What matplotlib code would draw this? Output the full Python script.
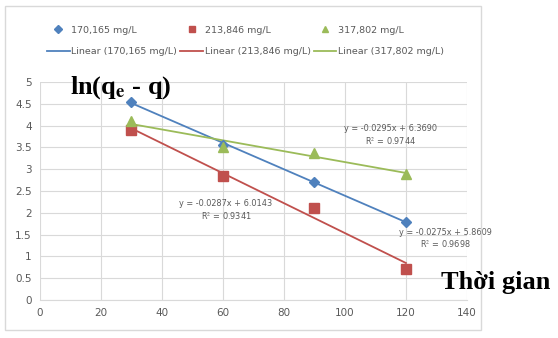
import numpy as np
import matplotlib.pyplot as plt
from matplotlib.patches import Rectangle

plt.rcParams['font.family'] = ['Liberation Sans Narrow', 'DejaVu Sans']
plt.rcParams['mathtext.fontset'] = 'stix'

# du lieu
time = [30, 60, 90, 120]
y170 = [4.55, 3.55, 2.70, 1.80]
y213 = [3.90, 2.85, 2.10, 0.72]
y317 = [4.10, 3.52, 3.38, 2.90]
names = ['170,165 mg/L', '213,846 mg/L', '317,802 mg/L']
colors = ['#4F81BD', '#C0504D', '#9BBB59']
markers = ['D', 's', '^']
msizes = [5, 6.5, 6.5]
eqs = ['y = -0.0275x + 5.8609\nR$^2$ = 0.9698',
       'y = -0.0287x + 6.0143\nR$^2$ = 0.9341',
       'y = -0.0295x + 6.3690\nR$^2$ = 0.9744']
eq_pos = [(133, 1.40), (61, 2.06), (115, 3.78)]

fig = plt.figure(figsize=(5.58, 3.38), dpi=100)
fig.patches.append(Rectangle((0.009, 0.024), 0.853, 0.958, transform=fig.transFigure,
                             fill=False, edgecolor='#D9D9D9', linewidth=1))
ax = fig.add_axes([0.0717, 0.1124, 0.765, 0.645])

handles = []
for ys, name, c, m, ms in zip([y170, y213, y317], names, colors, markers, msizes):
    sc, = ax.plot(time, ys, linestyle='none', marker=m, color=c, markersize=ms, label=name, zorder=3)
    k, b = np.polyfit(time, ys, 1)
    xx = np.array([time[0], time[-1]])
    ln, = ax.plot(xx, k * xx + b, color=c, linewidth=1.3, label='Linear (' + name + ')', zorder=2)
    handles += [sc, ln]

for t, (x, y) in zip(eqs, eq_pos):
    ax.text(x, y, t, ha='center', va='center', fontsize=5.9, color='#595959', linespacing=1.25)

ax.set_xlim(0, 140)
ax.set_ylim(0, 5)
ax.set_xticks(range(0, 141, 20))
ax.set_yticks(np.arange(0, 5.01, 0.5))
ax.set_yticklabels(['0', '0.5', '1', '1.5', '2', '2.5', '3', '3.5', '4', '4.5', '5'])
ax.grid(True, color='#D9D9D9', linewidth=0.8)
ax.set_axisbelow(True)
for s in ['top', 'right', 'left']:
    ax.spines[s].set_visible(False)
ax.spines['bottom'].set_color('#D9D9D9')
ax.tick_params(length=0, labelsize=7.5, labelcolor='#595959', pad=6)

fig.legend(handles=handles, ncol=3, loc='center', bbox_to_anchor=(0.44, 0.879),
           frameon=False, fontsize=6.8, labelcolor='#595959', columnspacing=0.3,
           handlelength=2.4, handletextpad=0.2, labelspacing=1.35, markerscale=0.75)

fig.text(0.125, 0.74, r'ln(q$\mathbf{_e}$ - q)', fontsize=19, fontweight='bold',
         family=['Liberation Serif', 'DejaVu Serif'], ha='left', va='center')
fig.text(0.79, 0.163, 'Thời gian', fontsize=19, fontweight='bold',
         family=['Liberation Serif', 'DejaVu Serif'], ha='left', va='center')

fig.savefig('out.png', dpi=100)
